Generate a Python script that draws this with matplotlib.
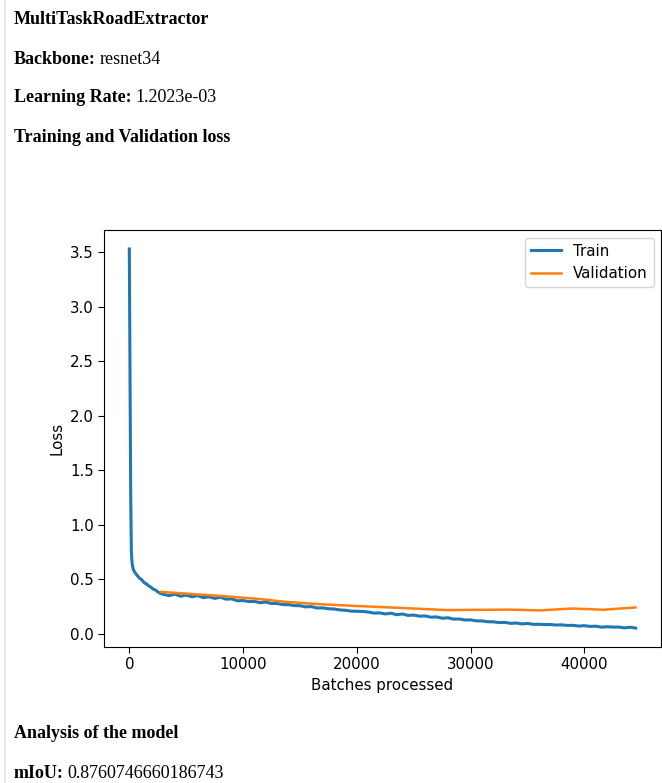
import matplotlib.pyplot as plt
from matplotlib.lines import Line2D

model_name = "MultiTaskRoadExtractor"
backbone = "resnet34"
learning_rate = "1.2023e-03"
miou = "0.8760746660186743"

# train loss
train_x = [0, 60, 120, 180, 250, 350, 500, 700, 900, 1100, 1300, 1500, 1700, 1900,
           2100, 2300, 2500, 2700,
           3000, 3500, 4000, 4500, 5000, 5500, 6000, 6500, 7000, 7500, 8000, 8500,
           9000, 9500, 10000, 10500, 11000, 11500, 12000, 12500, 13000, 13500,
           14000, 14500, 15000, 15500, 16000, 16500, 17000, 17500, 18000, 18500,
           19000, 19500, 20000, 20500, 21000, 21500, 22000, 22500, 23000, 23500,
           24000, 24500, 25000, 25500, 26000, 26500, 27000, 27500, 28000, 28500,
           29000, 29500, 30000, 30500, 31000, 31500, 32000, 32500, 33000, 33500,
           34000, 34500, 35000, 35500, 36000, 36500, 37000, 37500, 38000, 38500,
           39000, 39500, 40000, 40500, 41000, 41500, 42000, 42500, 43000, 43500,
           44000, 44500]
train_loss = [3.53, 2.40, 1.30, 0.75, 0.64, 0.59, 0.56, 0.535, 0.51, 0.495, 0.47, 0.458,
              0.44, 0.428, 0.41, 0.402, 0.385, 0.372,
              0.362, 0.350, 0.364, 0.345, 0.355, 0.340, 0.350, 0.332, 0.340, 0.325,
              0.335, 0.318, 0.320, 0.303, 0.305, 0.296, 0.297, 0.285, 0.292, 0.278,
              0.278, 0.268, 0.268, 0.259, 0.258, 0.247, 0.250, 0.237, 0.238, 0.230,
              0.228, 0.219, 0.216, 0.208, 0.207, 0.205, 0.200, 0.190, 0.192, 0.182,
              0.189, 0.175, 0.182, 0.169, 0.172, 0.162, 0.164, 0.153, 0.155, 0.143,
              0.147, 0.135, 0.136, 0.127, 0.128, 0.119, 0.118, 0.111, 0.110, 0.103,
              0.105, 0.096, 0.099, 0.091, 0.095, 0.087, 0.088, 0.085, 0.085, 0.081,
              0.082, 0.077, 0.078, 0.071, 0.075, 0.068, 0.070, 0.061, 0.065, 0.062,
              0.062, 0.055, 0.060, 0.053]

# validation loss, one point per epoch
val_x = [2780, 5560, 8340, 11120, 13900, 16680, 19460, 22240, 25020, 27800,
         30580, 33360, 36140, 38920, 41700, 44480]
val_loss = [0.385, 0.365, 0.345, 0.322, 0.292, 0.272, 0.258, 0.245, 0.232, 0.218,
            0.220, 0.222, 0.215, 0.232, 0.221, 0.242]

fig = plt.figure(figsize=(6.62, 7.83), dpi=100)

# left border of the page
fig.add_artist(Line2D([5 / 662, 5 / 662], [0, 1], color="#e4e4e4", lw=1.2))

serif = "Liberation Serif"
fs = 13
renderer = fig.canvas.get_renderer()


def label_line(y_px, bold, normal=None):
    y = 1 - y_px / 783
    t = fig.text(14 / 662, y, bold, fontfamily=serif, fontweight="bold",
                 fontsize=fs, va="center")
    if normal:
        bb = t.get_window_extent(renderer=renderer)
        fig.text(bb.x1 / 662 + 4 / 662, y, normal, fontfamily=serif,
                 fontsize=fs, va="center")


label_line(20, model_name)
label_line(59, "Backbone:", backbone)
label_line(98, "Learning Rate:", learning_rate)
label_line(137, "Training and Validation loss")
label_line(734, "Analysis of the model")
label_line(773, "mIoU:", miou)

ax = fig.add_axes([104 / 662, 1 - 647 / 783, 557 / 662, 417 / 783])
ax.plot(train_x, train_loss, color="#1f77b4", lw=2.2, label="Train")
ax.plot(val_x, val_loss, color="#ff7f0e", lw=1.8, label="Validation")
ax.set_xlabel("Batches processed", fontsize=10.8)
ax.set_ylabel("Loss", fontsize=10.8)
ax.tick_params(labelsize=10.8, length=4)
ax.legend(fontsize=10.8, loc="upper right")

fig.savefig("out.png", dpi=100)
